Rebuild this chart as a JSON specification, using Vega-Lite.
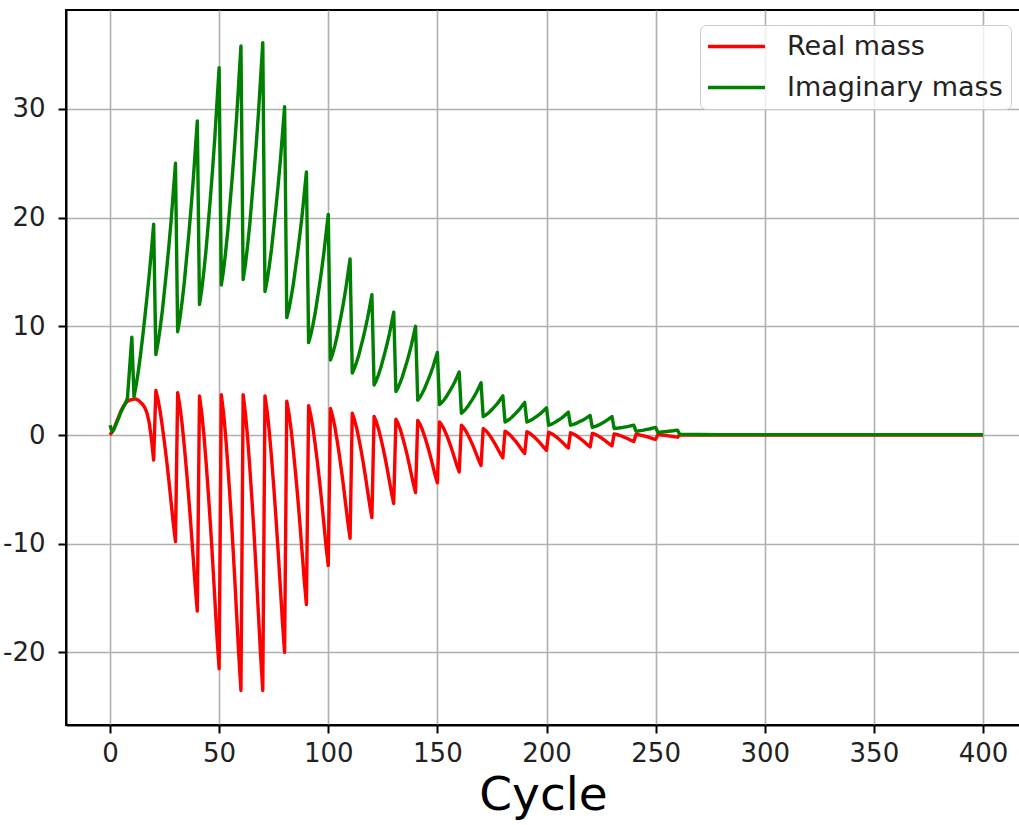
{
  "$schema": "https://vega.github.io/schema/vega-lite/v6.json",
  "width": 954,
  "height": 715,
  "autosize": {"type": "none"},
  "padding": {"left": 66, "top": 10, "right": -1, "bottom": 100},
  "title": {
    "text": "Real and imaginary mass",
    "font": "DejaVu Sans",
    "fontSize": 52,
    "fontWeight": "normal",
    "color": "#000000",
    "anchor": "middle",
    "dx": 58,
    "baseline": "alphabetic",
    "offset": 15
  },
  "data": {
    "values": [
      {"c": 0, "Real mass": 0.0, "Imaginary mass": 0.9},
      {"c": 1, "Real mass": 0.3, "Imaginary mass": 0.3},
      {"c": 2, "Real mass": 0.7, "Imaginary mass": 0.6},
      {"c": 3, "Real mass": 1.2, "Imaginary mass": 1.1},
      {"c": 4, "Real mass": 1.7, "Imaginary mass": 1.6},
      {"c": 5, "Real mass": 2.2, "Imaginary mass": 2.1},
      {"c": 6, "Real mass": 2.6, "Imaginary mass": 2.5},
      {"c": 7, "Real mass": 2.9, "Imaginary mass": 2.9},
      {"c": 8, "Real mass": 3.1, "Imaginary mass": 3.4},
      {"c": 9, "Real mass": 3.2, "Imaginary mass": 6.2},
      {"c": 10, "Real mass": 3.25, "Imaginary mass": 9.0},
      {"c": 11, "Real mass": 3.3, "Imaginary mass": 3.5},
      {"c": 12, "Real mass": 3.3, "Imaginary mass": 4.6},
      {"c": 13, "Real mass": 3.2, "Imaginary mass": 5.9},
      {"c": 14, "Real mass": 3.0, "Imaginary mass": 7.4},
      {"c": 15, "Real mass": 2.8, "Imaginary mass": 9.1},
      {"c": 16, "Real mass": 2.5, "Imaginary mass": 10.9},
      {"c": 17, "Real mass": 2.0, "Imaginary mass": 12.8},
      {"c": 18, "Real mass": 1.1, "Imaginary mass": 14.8},
      {"c": 19, "Real mass": -0.4, "Imaginary mass": 17.0},
      {"c": 20, "Real mass": -2.3, "Imaginary mass": 19.4},
      {"c": 21, "Real mass": 4.1, "Imaginary mass": 7.4},
      {"c": 22, "Real mass": 3.27, "Imaginary mass": 8.46},
      {"c": 23, "Real mass": 2.15, "Imaginary mass": 9.86},
      {"c": 24, "Real mass": 0.76, "Imaginary mass": 11.45},
      {"c": 25, "Real mass": -0.77, "Imaginary mass": 13.38},
      {"c": 26, "Real mass": -2.43, "Imaginary mass": 15.32},
      {"c": 27, "Real mass": -4.24, "Imaginary mass": 17.43},
      {"c": 28, "Real mass": -6.19, "Imaginary mass": 19.72},
      {"c": 29, "Real mass": -8.13, "Imaginary mass": 22.36},
      {"c": 30, "Real mass": -9.8, "Imaginary mass": 25.0},
      {"c": 31, "Real mass": 3.9, "Imaginary mass": 9.5},
      {"c": 32, "Real mass": 2.69, "Imaginary mass": 10.66},
      {"c": 33, "Real mass": 1.09, "Imaginary mass": 12.22},
      {"c": 34, "Real mass": -0.92, "Imaginary mass": 13.96},
      {"c": 35, "Real mass": -3.14, "Imaginary mass": 16.1},
      {"c": 36, "Real mass": -5.55, "Imaginary mass": 18.23},
      {"c": 37, "Real mass": -8.16, "Imaginary mass": 20.56},
      {"c": 38, "Real mass": -10.97, "Imaginary mass": 23.08},
      {"c": 39, "Real mass": -13.79, "Imaginary mass": 25.99},
      {"c": 40, "Real mass": -16.2, "Imaginary mass": 28.9},
      {"c": 41, "Real mass": 3.6, "Imaginary mass": 12.0},
      {"c": 42, "Real mass": 2.09, "Imaginary mass": 13.31},
      {"c": 43, "Real mass": 0.09, "Imaginary mass": 15.05},
      {"c": 44, "Real mass": -2.42, "Imaginary mass": 17.01},
      {"c": 45, "Real mass": -5.19, "Imaginary mass": 19.41},
      {"c": 46, "Real mass": -8.2, "Imaginary mass": 21.81},
      {"c": 47, "Real mass": -11.46, "Imaginary mass": 24.43},
      {"c": 48, "Real mass": -14.97, "Imaginary mass": 27.26},
      {"c": 49, "Real mass": -18.49, "Imaginary mass": 30.53},
      {"c": 50, "Real mass": -21.5, "Imaginary mass": 33.8},
      {"c": 51, "Real mass": 3.7, "Imaginary mass": 13.8},
      {"c": 52, "Real mass": 2.07, "Imaginary mass": 15.12},
      {"c": 53, "Real mass": -0.11, "Imaginary mass": 16.88},
      {"c": 54, "Real mass": -2.83, "Imaginary mass": 18.86},
      {"c": 55, "Real mass": -5.82, "Imaginary mass": 21.28},
      {"c": 56, "Real mass": -9.08, "Imaginary mass": 23.7},
      {"c": 57, "Real mass": -12.62, "Imaginary mass": 26.34},
      {"c": 58, "Real mass": -16.43, "Imaginary mass": 29.2},
      {"c": 59, "Real mass": -20.24, "Imaginary mass": 32.5},
      {"c": 60, "Real mass": -23.5, "Imaginary mass": 35.8},
      {"c": 61, "Real mass": 3.7, "Imaginary mass": 14.3},
      {"c": 62, "Real mass": 2.07, "Imaginary mass": 15.61},
      {"c": 63, "Real mass": -0.11, "Imaginary mass": 17.35},
      {"c": 64, "Real mass": -2.83, "Imaginary mass": 19.31},
      {"c": 65, "Real mass": -5.82, "Imaginary mass": 21.71},
      {"c": 66, "Real mass": -9.08, "Imaginary mass": 24.11},
      {"c": 67, "Real mass": -12.62, "Imaginary mass": 26.73},
      {"c": 68, "Real mass": -16.43, "Imaginary mass": 29.56},
      {"c": 69, "Real mass": -20.24, "Imaginary mass": 32.83},
      {"c": 70, "Real mass": -23.5, "Imaginary mass": 36.1},
      {"c": 71, "Real mass": 3.6, "Imaginary mass": 13.2},
      {"c": 72, "Real mass": 2.18, "Imaginary mass": 14.22},
      {"c": 73, "Real mass": 0.3, "Imaginary mass": 15.58},
      {"c": 74, "Real mass": -2.06, "Imaginary mass": 17.11},
      {"c": 75, "Real mass": -4.66, "Imaginary mass": 18.98},
      {"c": 76, "Real mass": -7.49, "Imaginary mass": 20.85},
      {"c": 77, "Real mass": -10.56, "Imaginary mass": 22.89},
      {"c": 78, "Real mass": -13.86, "Imaginary mass": 25.1},
      {"c": 79, "Real mass": -17.17, "Imaginary mass": 27.65},
      {"c": 80, "Real mass": -20.0, "Imaginary mass": 30.2},
      {"c": 81, "Real mass": 3.1, "Imaginary mass": 10.8},
      {"c": 82, "Real mass": 1.98, "Imaginary mass": 11.6},
      {"c": 83, "Real mass": 0.48, "Imaginary mass": 12.68},
      {"c": 84, "Real mass": -1.39, "Imaginary mass": 13.88},
      {"c": 85, "Real mass": -3.45, "Imaginary mass": 15.36},
      {"c": 86, "Real mass": -5.69, "Imaginary mass": 16.83},
      {"c": 87, "Real mass": -8.12, "Imaginary mass": 18.44},
      {"c": 88, "Real mass": -10.74, "Imaginary mass": 20.18},
      {"c": 89, "Real mass": -13.36, "Imaginary mass": 22.19},
      {"c": 90, "Real mass": -15.6, "Imaginary mass": 24.2},
      {"c": 91, "Real mass": 2.7, "Imaginary mass": 8.5},
      {"c": 92, "Real mass": 1.82, "Imaginary mass": 9.21},
      {"c": 93, "Real mass": 0.64, "Imaginary mass": 10.15},
      {"c": 94, "Real mass": -0.83, "Imaginary mass": 11.21},
      {"c": 95, "Real mass": -2.45, "Imaginary mass": 12.51},
      {"c": 96, "Real mass": -4.21, "Imaginary mass": 13.81},
      {"c": 97, "Real mass": -6.12, "Imaginary mass": 15.23},
      {"c": 98, "Real mass": -8.18, "Imaginary mass": 16.76},
      {"c": 99, "Real mass": -10.24, "Imaginary mass": 18.53},
      {"c": 100, "Real mass": -12.0, "Imaginary mass": 20.3},
      {"c": 101, "Real mass": 2.45, "Imaginary mass": 6.9},
      {"c": 102, "Real mass": 1.73, "Imaginary mass": 7.46},
      {"c": 103, "Real mass": 0.78, "Imaginary mass": 8.2},
      {"c": 104, "Real mass": -0.42, "Imaginary mass": 9.04},
      {"c": 105, "Real mass": -1.73, "Imaginary mass": 10.06},
      {"c": 106, "Real mass": -3.17, "Imaginary mass": 11.09},
      {"c": 107, "Real mass": -4.72, "Imaginary mass": 12.2},
      {"c": 108, "Real mass": -6.39, "Imaginary mass": 13.41},
      {"c": 109, "Real mass": -8.07, "Imaginary mass": 14.81},
      {"c": 110, "Real mass": -9.5, "Imaginary mass": 16.2},
      {"c": 111, "Real mass": 2.0, "Imaginary mass": 5.7},
      {"c": 112, "Real mass": 1.42, "Imaginary mass": 6.13},
      {"c": 113, "Real mass": 0.66, "Imaginary mass": 6.71},
      {"c": 114, "Real mass": -0.3, "Imaginary mass": 7.36},
      {"c": 115, "Real mass": -1.36, "Imaginary mass": 8.15},
      {"c": 116, "Real mass": -2.51, "Imaginary mass": 8.94},
      {"c": 117, "Real mass": -3.76, "Imaginary mass": 9.8},
      {"c": 118, "Real mass": -5.1, "Imaginary mass": 10.74},
      {"c": 119, "Real mass": -6.45, "Imaginary mass": 11.82},
      {"c": 120, "Real mass": -7.6, "Imaginary mass": 12.9},
      {"c": 121, "Real mass": 1.7, "Imaginary mass": 4.6},
      {"c": 122, "Real mass": 1.22, "Imaginary mass": 5.0},
      {"c": 123, "Real mass": 0.58, "Imaginary mass": 5.54},
      {"c": 124, "Real mass": -0.22, "Imaginary mass": 6.14},
      {"c": 125, "Real mass": -1.1, "Imaginary mass": 6.88},
      {"c": 126, "Real mass": -2.06, "Imaginary mass": 7.62},
      {"c": 127, "Real mass": -3.1, "Imaginary mass": 8.42},
      {"c": 128, "Real mass": -4.22, "Imaginary mass": 9.29},
      {"c": 129, "Real mass": -5.34, "Imaginary mass": 10.3},
      {"c": 130, "Real mass": -6.3, "Imaginary mass": 11.3},
      {"c": 131, "Real mass": 1.45, "Imaginary mass": 4.0},
      {"c": 132, "Real mass": 1.05, "Imaginary mass": 4.36},
      {"c": 133, "Real mass": 0.51, "Imaginary mass": 4.84},
      {"c": 134, "Real mass": -0.17, "Imaginary mass": 5.38},
      {"c": 135, "Real mass": -0.91, "Imaginary mass": 6.04},
      {"c": 136, "Real mass": -1.72, "Imaginary mass": 6.7},
      {"c": 137, "Real mass": -2.6, "Imaginary mass": 7.42},
      {"c": 138, "Real mass": -3.55, "Imaginary mass": 8.2},
      {"c": 139, "Real mass": -4.49, "Imaginary mass": 9.1},
      {"c": 140, "Real mass": -5.3, "Imaginary mass": 10.0},
      {"c": 141, "Real mass": 1.35, "Imaginary mass": 3.2},
      {"c": 142, "Real mass": 1.01, "Imaginary mass": 3.46},
      {"c": 143, "Real mass": 0.55, "Imaginary mass": 3.82},
      {"c": 144, "Real mass": -0.03, "Imaginary mass": 4.21},
      {"c": 145, "Real mass": -0.66, "Imaginary mass": 4.7},
      {"c": 146, "Real mass": -1.35, "Imaginary mass": 5.18},
      {"c": 147, "Real mass": -2.1, "Imaginary mass": 5.71},
      {"c": 148, "Real mass": -2.91, "Imaginary mass": 6.28},
      {"c": 149, "Real mass": -3.71, "Imaginary mass": 6.94},
      {"c": 150, "Real mass": -4.4, "Imaginary mass": 7.6},
      {"c": 151, "Real mass": 1.2, "Imaginary mass": 2.8},
      {"c": 152, "Real mass": 0.92, "Imaginary mass": 2.98},
      {"c": 153, "Real mass": 0.56, "Imaginary mass": 3.22},
      {"c": 154, "Real mass": 0.1, "Imaginary mass": 3.49},
      {"c": 155, "Real mass": -0.41, "Imaginary mass": 3.82},
      {"c": 156, "Real mass": -0.96, "Imaginary mass": 4.15},
      {"c": 157, "Real mass": -1.56, "Imaginary mass": 4.51},
      {"c": 158, "Real mass": -2.2, "Imaginary mass": 4.9},
      {"c": 159, "Real mass": -2.85, "Imaginary mass": 5.35},
      {"c": 160, "Real mass": -3.4, "Imaginary mass": 5.8},
      {"c": 161, "Real mass": 0.9, "Imaginary mass": 2.0},
      {"c": 162, "Real mass": 0.68, "Imaginary mass": 2.17},
      {"c": 163, "Real mass": 0.38, "Imaginary mass": 2.39},
      {"c": 164, "Real mass": 0.01, "Imaginary mass": 2.64},
      {"c": 165, "Real mass": -0.4, "Imaginary mass": 2.95},
      {"c": 166, "Real mass": -0.84, "Imaginary mass": 3.26},
      {"c": 167, "Real mass": -1.32, "Imaginary mass": 3.6},
      {"c": 168, "Real mass": -1.84, "Imaginary mass": 3.96},
      {"c": 169, "Real mass": -2.36, "Imaginary mass": 4.38},
      {"c": 170, "Real mass": -2.8, "Imaginary mass": 4.8},
      {"c": 171, "Real mass": 0.6, "Imaginary mass": 1.7},
      {"c": 172, "Real mass": 0.44, "Imaginary mass": 1.81},
      {"c": 173, "Real mass": 0.22, "Imaginary mass": 1.97},
      {"c": 174, "Real mass": -0.05, "Imaginary mass": 2.14},
      {"c": 175, "Real mass": -0.35, "Imaginary mass": 2.35},
      {"c": 176, "Real mass": -0.67, "Imaginary mass": 2.56},
      {"c": 177, "Real mass": -1.02, "Imaginary mass": 2.78},
      {"c": 178, "Real mass": -1.4, "Imaginary mass": 3.03},
      {"c": 179, "Real mass": -1.78, "Imaginary mass": 3.32},
      {"c": 180, "Real mass": -2.1, "Imaginary mass": 3.6},
      {"c": 181, "Real mass": 0.35, "Imaginary mass": 1.2},
      {"c": 182, "Real mass": 0.23, "Imaginary mass": 1.31},
      {"c": 183, "Real mass": 0.06, "Imaginary mass": 1.45},
      {"c": 184, "Real mass": -0.14, "Imaginary mass": 1.61},
      {"c": 185, "Real mass": -0.37, "Imaginary mass": 1.81},
      {"c": 186, "Real mass": -0.61, "Imaginary mass": 2.01},
      {"c": 187, "Real mass": -0.88, "Imaginary mass": 2.23},
      {"c": 188, "Real mass": -1.17, "Imaginary mass": 2.46},
      {"c": 189, "Real mass": -1.45, "Imaginary mass": 2.73},
      {"c": 190, "Real mass": -1.7, "Imaginary mass": 3.0},
      {"c": 191, "Real mass": 0.3, "Imaginary mass": 1.2},
      {"c": 192, "Real mass": 0.2, "Imaginary mass": 1.28},
      {"c": 193, "Real mass": 0.06, "Imaginary mass": 1.38},
      {"c": 194, "Real mass": -0.11, "Imaginary mass": 1.5},
      {"c": 195, "Real mass": -0.3, "Imaginary mass": 1.64},
      {"c": 196, "Real mass": -0.5, "Imaginary mass": 1.79},
      {"c": 197, "Real mass": -0.72, "Imaginary mass": 1.94},
      {"c": 198, "Real mass": -0.96, "Imaginary mass": 2.11},
      {"c": 199, "Real mass": -1.2, "Imaginary mass": 2.31},
      {"c": 200, "Real mass": -1.4, "Imaginary mass": 2.5},
      {"c": 201, "Real mass": 0.25, "Imaginary mass": 0.9},
      {"c": 202, "Real mass": 0.16, "Imaginary mass": 0.97},
      {"c": 203, "Real mass": 0.05, "Imaginary mass": 1.07},
      {"c": 204, "Real mass": -0.1, "Imaginary mass": 1.18},
      {"c": 205, "Real mass": -0.26, "Imaginary mass": 1.31},
      {"c": 206, "Real mass": -0.43, "Imaginary mass": 1.44},
      {"c": 207, "Real mass": -0.62, "Imaginary mass": 1.58},
      {"c": 208, "Real mass": -0.82, "Imaginary mass": 1.74},
      {"c": 209, "Real mass": -1.03, "Imaginary mass": 1.92},
      {"c": 210, "Real mass": -1.2, "Imaginary mass": 2.1},
      {"c": 211, "Real mass": 0.2, "Imaginary mass": 0.9},
      {"c": 212, "Real mass": 0.12, "Imaginary mass": 0.95},
      {"c": 213, "Real mass": 0.02, "Imaginary mass": 1.03},
      {"c": 214, "Real mass": -0.11, "Imaginary mass": 1.11},
      {"c": 215, "Real mass": -0.26, "Imaginary mass": 1.21},
      {"c": 216, "Real mass": -0.41, "Imaginary mass": 1.31},
      {"c": 217, "Real mass": -0.58, "Imaginary mass": 1.41},
      {"c": 218, "Real mass": -0.76, "Imaginary mass": 1.53},
      {"c": 219, "Real mass": -0.94, "Imaginary mass": 1.67},
      {"c": 220, "Real mass": -1.1, "Imaginary mass": 1.8},
      {"c": 221, "Real mass": 0.15, "Imaginary mass": 0.7},
      {"c": 222, "Real mass": 0.08, "Imaginary mass": 0.76},
      {"c": 223, "Real mass": -0.01, "Imaginary mass": 0.84},
      {"c": 224, "Real mass": -0.13, "Imaginary mass": 0.93},
      {"c": 225, "Real mass": -0.25, "Imaginary mass": 1.04},
      {"c": 226, "Real mass": -0.39, "Imaginary mass": 1.15},
      {"c": 227, "Real mass": -0.54, "Imaginary mass": 1.27},
      {"c": 228, "Real mass": -0.7, "Imaginary mass": 1.4},
      {"c": 229, "Real mass": -0.86, "Imaginary mass": 1.55},
      {"c": 230, "Real mass": -1.0, "Imaginary mass": 1.7},
      {"c": 231, "Real mass": 0.1, "Imaginary mass": 0.6},
      {"c": 232, "Real mass": 0.06, "Imaginary mass": 0.62},
      {"c": 233, "Real mass": 0.0, "Imaginary mass": 0.64},
      {"c": 234, "Real mass": -0.07, "Imaginary mass": 0.67},
      {"c": 235, "Real mass": -0.15, "Imaginary mass": 0.7},
      {"c": 236, "Real mass": -0.23, "Imaginary mass": 0.74},
      {"c": 237, "Real mass": -0.32, "Imaginary mass": 0.77},
      {"c": 238, "Real mass": -0.42, "Imaginary mass": 0.81},
      {"c": 239, "Real mass": -0.52, "Imaginary mass": 0.86},
      {"c": 240, "Real mass": -0.6, "Imaginary mass": 0.9},
      {"c": 241, "Real mass": 0.05, "Imaginary mass": 0.35},
      {"c": 242, "Real mass": 0.02, "Imaginary mass": 0.37},
      {"c": 243, "Real mass": -0.01, "Imaginary mass": 0.4},
      {"c": 244, "Real mass": -0.06, "Imaginary mass": 0.43},
      {"c": 245, "Real mass": -0.11, "Imaginary mass": 0.47},
      {"c": 246, "Real mass": -0.16, "Imaginary mass": 0.51},
      {"c": 247, "Real mass": -0.22, "Imaginary mass": 0.55},
      {"c": 248, "Real mass": -0.28, "Imaginary mass": 0.6},
      {"c": 249, "Real mass": -0.35, "Imaginary mass": 0.65},
      {"c": 250, "Real mass": -0.4, "Imaginary mass": 0.7},
      {"c": 251, "Real mass": 0.03, "Imaginary mass": 0.25},
      {"c": 252, "Real mass": 0.02, "Imaginary mass": 0.26},
      {"c": 253, "Real mass": 0.0, "Imaginary mass": 0.28},
      {"c": 254, "Real mass": -0.03, "Imaginary mass": 0.3},
      {"c": 255, "Real mass": -0.05, "Imaginary mass": 0.32},
      {"c": 256, "Real mass": -0.08, "Imaginary mass": 0.34},
      {"c": 257, "Real mass": -0.11, "Imaginary mass": 0.37},
      {"c": 258, "Real mass": -0.14, "Imaginary mass": 0.39},
      {"c": 259, "Real mass": -0.17, "Imaginary mass": 0.42},
      {"c": 260, "Real mass": -0.2, "Imaginary mass": 0.45},
      {"c": 261, "Real mass": 0.0, "Imaginary mass": 0.08},
      {"c": 265, "Real mass": 0.0, "Imaginary mass": 0.06},
      {"c": 270, "Real mass": 0.0, "Imaginary mass": 0.04},
      {"c": 280, "Real mass": 0.0, "Imaginary mass": 0.03},
      {"c": 290, "Real mass": 0.0, "Imaginary mass": 0.03},
      {"c": 300, "Real mass": 0.0, "Imaginary mass": 0.03},
      {"c": 310, "Real mass": 0.0, "Imaginary mass": 0.03},
      {"c": 320, "Real mass": 0.0, "Imaginary mass": 0.03},
      {"c": 330, "Real mass": 0.0, "Imaginary mass": 0.03},
      {"c": 340, "Real mass": 0.0, "Imaginary mass": 0.03},
      {"c": 350, "Real mass": 0.0, "Imaginary mass": 0.03},
      {"c": 360, "Real mass": 0.0, "Imaginary mass": 0.03},
      {"c": 370, "Real mass": 0.0, "Imaginary mass": 0.03},
      {"c": 380, "Real mass": 0.0, "Imaginary mass": 0.03},
      {"c": 390, "Real mass": 0.0, "Imaginary mass": 0.03},
      {"c": 400, "Real mass": 0.0, "Imaginary mass": 0.03}
    ]
  },
  "transform": [
    {"fold": ["Real mass", "Imaginary mass"], "as": ["series", "mass"]}
  ],
  "mark": {"type": "line", "strokeWidth": 3.4, "strokeJoin": "round", "clip": true},
  "encoding": {
    "x": {
      "field": "c",
      "type": "quantitative",
      "scale": {"domain": [-20.16, 416.95], "nice": false, "zero": false},
      "axis": {
        "values": [0, 50, 100, 150, 200, 250, 300, 350, 400],
        "title": "Cycle",
        "titleFontSize": 47,
        "titlePadding": 6,
        "labelPadding": 7
      }
    },
    "y": {
      "field": "mass",
      "type": "quantitative",
      "scale": {"domain": [-26.68, 39.1], "nice": false, "zero": false},
      "axis": {
        "values": [-20, -10, 0, 10, 20, 30],
        "labelExpr": "datum.value + ''",
        "title": null,
        "labelPadding": 13
      }
    },
    "color": {
      "field": "series",
      "type": "nominal",
      "scale": {"domain": ["Real mass", "Imaginary mass"], "range": ["#ff0000", "#008000"]},
      "legend": {
        "title": null,
        "orient": "none",
        "legendX": 634,
        "legendY": 15,
        "symbolType": "M-3,0H3",
        "symbolSize": 361,
        "symbolOffset": 15,
        "symbolStrokeWidth": 3.4,
        "labelFont": "DejaVu Sans",
        "labelFontSize": 27,
        "labelColor": "#222222",
        "labelOffset": 37,
        "labelLimit": 400,
        "padding": 8,
        "rowPadding": 13,
        "fillColor": "rgba(255,255,255,0.8)",
        "strokeColor": "#cccccc",
        "cornerRadius": 6
      }
    }
  },
  "config": {
    "view": {"stroke": "#000000", "strokeWidth": 2},
    "axis": {
      "domainColor": "#000000",
      "domainWidth": 2,
      "tickColor": "#000000",
      "tickWidth": 2,
      "tickSize": 8,
      "labelFont": "DejaVu Sans",
      "labelFontSize": 26,
      "labelColor": "#222222",
      "grid": true,
      "gridColor": "#b0b0b0",
      "gridWidth": 1.6,
      "titleFont": "DejaVu Sans",
      "titleFontWeight": "normal",
      "titleColor": "#000000"
    }
  }
}
